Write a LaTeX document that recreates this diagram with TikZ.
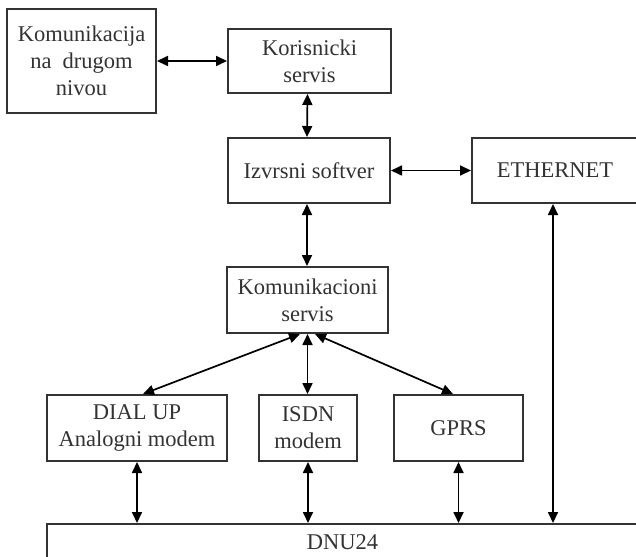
\documentclass[tikz,border=0pt]{standalone}
\usepackage{fontspec}
\setmainfont{Liberation Serif}
\usepackage{xcolor}
\usetikzlibrary{arrows.meta}

\tikzset{
    blok/.style={draw=black!80, line width=1pt, inner sep=0pt, align=center,
        text=black!80, font=\fontsize{11.25}{13.5}\selectfont},
    veza/.style={<->, line width=0.85pt}
}

\begin{document}
\begin{tikzpicture}[x=0.5pt, y=-0.5pt, >={Triangle[length=5.5pt,width=5pt]}]
    \path[use as bounding box, clip] (0,0) rectangle (636,556);
    \fill[white] (0,0) rectangle (636,556);
    % blokovi
    \node[blok, minimum width=74.5pt, minimum height=52pt] (komnivo) at (81.5,61) {Komunikacija\\na\ \ drugom\\nivou};
    \node[blok, minimum width=81.5pt, minimum height=32pt] (korserv) at (309.5,61) {Korisnicki\\servis};
    \node[blok, minimum width=81pt, minimum height=32.5pt] (izvrsni) at (309,170.5) {Izvrsni softver};
    \node[blok, minimum width=83pt, minimum height=32.5pt] (ethernet) at (555,170.5) {ETHERNET};
    \node[blok, minimum width=80.5pt, minimum height=33pt] (komserv) at (307.5,300) {Komunikacioni\\servis};
    \node[blok, minimum width=90pt, minimum height=33pt] (dialup) at (137,428) {DIAL UP\\Analogni modem};
    \node[blok, minimum width=49pt, minimum height=33pt] (isdn) at (308,428) {ISDN\\modem};
    \node[blok, minimum width=64.5pt, minimum height=33pt] (gprs) at (458.5,428) {GPRS};
    \node[blok, minimum width=295.5pt, minimum height=18pt] (dnu) at (342.5,542) {DNU24};
    % veze
    \draw[veza] (komnivo) -- (korserv);
    \draw[veza] ([xshift=-1pt]korserv.south) -- ([xshift=-1pt]izvrsni.north);
    \draw[veza] (izvrsni) -- (ethernet);
    \draw[veza] ([xshift=-1pt]izvrsni.south) -- ([xshift=-1pt]izvrsni.south |- komserv.north);
    \draw[veza] ([xshift=-3.75pt]komserv.south) -- ([xshift=3pt]dialup.north);
    \draw[veza] (komserv.south) -- (komserv.south |- isdn.north);
    \draw[veza] ([xshift=3.75pt]komserv.south) -- ([xshift=-2.75pt]gprs.north);
    \draw[veza] (dialup.south) -- (dialup.south |- dnu.north);
    \draw[veza] (isdn.south) -- (isdn.south |- dnu.north);
    \draw[veza] (gprs.south) -- (gprs.south |- dnu.north);
    \draw[veza] ([xshift=-1pt]ethernet.south) -- ([xshift=-1pt]ethernet.south |- dnu.north);
\end{tikzpicture}
\end{document}
